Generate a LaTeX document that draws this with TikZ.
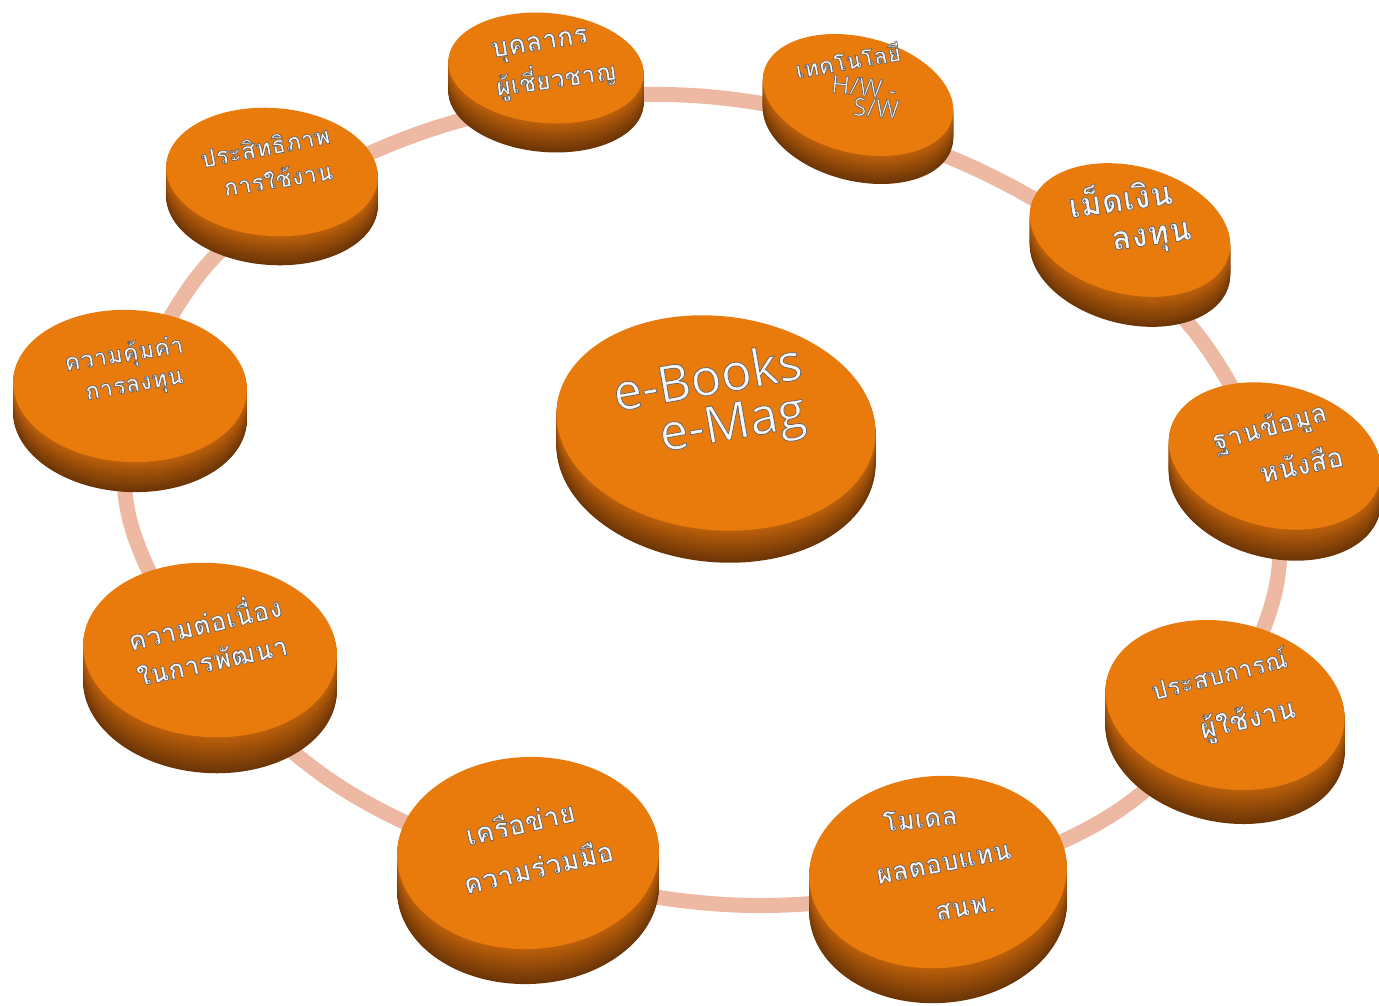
\documentclass[tikz,border=0pt]{standalone}
\usepackage{fontspec}
\newfontfamily\thaifont[Script=Thai]{Loma}
\newfontfamily\latinfont{Open Sans}
\definecolor{ringc}{HTML}{EDB9A3}
\definecolor{topc}{HTML}{E97B0C}
\definecolor{sidetop}{HTML}{BC600B}
\definecolor{sidebot}{HTML}{6C3506}
\definecolor{labelface}{HTML}{F7F7F7}
\tikzset{
  ringline/.style={draw=ringc, line width=15pt},
  lblface/.style={inner sep=0pt, text=labelface},
}
% glyphs filled light and stroked with a grey rim
\newcommand\embossed[1]{%
  \special{pdf:literal direct 2 Tr 0.75 w 0.40 0.40 0.42 RG}#1\special{pdf:literal direct 0 Tr}}
% disc: name, cx, cy, x radius, y radius, rotation, thickness
\newcommand\disc[7]{%
  \foreach \k in {#7,...,1}{%
    \pgfmathsetmacro\pc{100*\k/#7}%
    \fill[sidebot!\pc!sidetop, rotate around={#6:(#2,#3+\k)}]
      (#2,#3+\k) ellipse[x radius=#4pt, y radius=#5pt];
  }
  \fill[topc, rotate around={#6:(#2,#3)}] (#2,#3) ellipse[x radius=#4pt, y radius=#5pt];
  \coordinate (#1) at (#2,#3);
}
% label line: name, x, y, angle, size, font, text
\newcommand\tline[7]{%
  \node[lblface, rotate=#4, font=#6\fontsize{#5pt}{#5pt}\selectfont] (#1) at (#2,#3) {\embossed{#7}};
}
\begin{document}
\begin{tikzpicture}[x=1pt,y=-1pt]
\useasboundingbox (0,0) rectangle (1379,1005);
\clip (0,0) rectangle (1379,1005);
\fill[white] (0,0) rectangle (1379,1005);

% ring joining the discs
\coordinate (r1) at (700,96);
\coordinate (r2) at (995,178);
\coordinate (r3) at (1210,352);
\coordinate (r4) at (1275,592);
\coordinate (r5) at (1100,822);
\coordinate (r6) at (735,905);
\coordinate (r7) at (345,790);
\coordinate (r8) at (132,528);
\coordinate (r9) at (192,284);
\coordinate (r10) at (412,136);
\draw[ringline] plot[smooth cycle, tension=0.6] coordinates {(r1) (r2) (r3) (r4) (r5) (r6) (r7) (r8) (r9) (r10)};

% discs
\disc{d1}{546}{68}{98}{55}{-5}{29}
\disc{d2}{858}{95}{97}{58}{-14}{28}
\disc{d10}{272}{172}{106}{64}{-4}{29}
\disc{d3}{1130}{230}{102}{64}{-14}{30}
\disc{d9}{130}{386}{117}{76}{-3}{30}
\disc{d4}{1275}{456}{108}{71}{-14}{31}
\disc{dc}{716}{423}{160}{107}{-6}{32}
\disc{d8}{210}{650}{127}{87}{-4}{36}
\disc{d5}{1225}{705}{121}{83}{-12}{34}
\disc{d7}{528}{853}{131}{96}{2}{35}
\disc{d6}{938}{872}{129}{96}{4}{35}

% labels
\tline{t1a}{540}{46}{9}{27}{\thaifont\bfseries}{บุคลากร}
\tline{t1b}{556}{78}{8}{25}{\thaifont\bfseries}{ผู้เชี่ยวชาญ}
\tline{t2a}{848}{60}{10}{23}{\thaifont\bfseries}{เทคโนโลยี}
\tline{t2b}{864}{87}{-6}{25}{\latinfont}{H/W -}
\tline{t2c}{876}{108}{-4}{25}{\latinfont}{S/W}
\tline{t3a}{1120}{196}{8}{33}{\thaifont\bfseries}{เม็ดเงิน}
\tline{t3b}{1152}{240}{8}{33}{\thaifont\bfseries}{ลงทุน}
\tline{t4a}{1270}{428}{15}{27}{\thaifont\bfseries}{ฐานข้อมูล}
\tline{t4b}{1301}{463}{12}{28}{\thaifont\bfseries}{หนังสือ}
\tline{t5a}{1219}{673}{14}{25}{\thaifont\bfseries}{ประสบการณ์}
\tline{t5b}{1248}{720}{13}{28}{\thaifont\bfseries}{ผู้ใช้งาน}
\tline{t6a}{920}{818}{6}{27}{\thaifont\bfseries}{โมเดล}
\tline{t6b}{944}{864}{11}{27}{\thaifont\bfseries}{ผลตอบแทน}
\tline{t6c}{965}{908}{10}{27}{\thaifont\bfseries}{สนพ.}
\tline{t7a}{520}{822}{13}{28}{\thaifont\bfseries}{เครือข่าย}
\tline{t7b}{538}{866}{13}{28}{\thaifont\bfseries}{ความร่วมมือ}
\tline{t8a}{204}{620}{13}{27}{\thaifont\bfseries}{ความต่อเนื่อง}
\tline{t8b}{212}{660}{12}{27}{\thaifont\bfseries}{ในการพัฒนา}
\tline{t9a}{124}{355}{9}{24}{\thaifont\bfseries}{ความคุ้มค่า}
\tline{t9b}{135}{388}{10}{24}{\thaifont\bfseries}{การลงทุน}
\tline{t10a}{265}{146}{11}{24}{\thaifont\bfseries}{ประสิทธิภาพ}
\tline{t10b}{278}{178}{9}{24}{\thaifont\bfseries}{การใช้งาน}
\tline{tca}{707}{376}{10}{51}{\latinfont}{e-Books}
\tline{tcb}{733}{427}{10}{51}{\latinfont}{e-Mag}
\end{tikzpicture}
\end{document}
